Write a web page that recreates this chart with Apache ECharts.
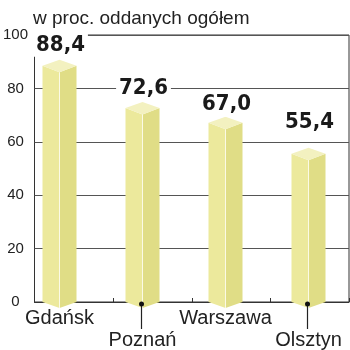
<!DOCTYPE html>
<html>
<head>
<meta charset="utf-8">
<script src="https://cdn.jsdelivr.net/npm/echarts@6/dist/echarts.min.js"></script>
<style>
  html, body { margin: 0; padding: 0; background: #fff; }
  #main { width: 350px; height: 350px; }
</style>
</head>
<body>
<div id="main"></div>
<script>
// dane z wykresu
const cities = ['Gdańsk', 'Poznań', 'Warszawa', 'Olsztyn']
const shares = [88.4, 72.6, 67.0, 55.4]
const yTicks = [0, 20, 40, 60, 80, 100]

const title = 'w proc. oddanych ogółem'

// podpis nad słupkiem w Olsztynie wisi wyżej niż pozostałe
const labelLift = [21, 20, 18, 31]

const fmt = v => v.toFixed(1).replace('.', ',')

function renderBar(params, api) {
  const i = api.value(0)
  const [cx, ty] = api.coord([i, api.value(1)])
  const by = api.coord([i, 0])[1]
  const w = 17
  const children = [
    { type: 'polygon', shape: { points: [[cx - w, ty], [cx, ty + 6.5], [cx, by + 7], [cx - w, by + 1]] },
      style: { fill: '#ece99c' } },
    { type: 'polygon', shape: { points: [[cx, ty + 6.5], [cx + w, ty], [cx + w, by + 1], [cx, by + 7]] },
      style: { fill: '#e0dd86' } },
    { type: 'polygon', shape: { points: [[cx - w, ty], [cx, ty - 6], [cx + w, ty], [cx, ty + 6.5]] },
      style: { fill: '#f3f1c0' } },
    { type: 'line', shape: { x1: cx, y1: ty + 6.5, x2: cx, y2: by + 7 },
      style: { stroke: '#fbfae6', lineWidth: 1 } },
    { type: 'text', style: {
        text: fmt(api.value(1)), x: cx + 1, y: ty - labelLift[i],
        align: 'center', verticalAlign: 'middle',
        font: 'bold 22px "DejaVu Sans Condensed", "DejaVu Sans", sans-serif',
        fill: '#1a1a1a', backgroundColor: '#fff', padding: [1, 3]
      } }
  ]
  // co drugi podpis zjeżdża niżej, z kreską i kropką
  if (i % 2 === 1) {
    children.push(
      { type: 'line', shape: { x1: cx - 1, y1: by + 3, x2: cx - 1, y2: by + 28 },
        style: { stroke: '#222', lineWidth: 1.2 }, z2: 10 },
      { type: 'circle', shape: { cx: cx - 1, cy: by + 3, r: 2.5 }, style: { fill: '#111' }, z2: 11 }
    )
  }
  return { type: 'group', children }
}

const option = {
  animation: false,
  title: {
    text: title,
    left: 33,
    top: 9,
    padding: 0,
    textStyle: { fontFamily: 'Liberation Sans', fontSize: 19, fontWeight: 'normal', color: '#222' }
  },
  grid: [
    { left: 33, right: 1, top: 35, bottom: 48, show: true, borderColor: '#333', borderWidth: 1 },
    { left: 18, right: 0, top: 35, bottom: 48 }
  ],
  xAxis: [
    {
      gridIndex: 0,
      type: 'category',
      data: cities,
      boundaryGap: true,
      axisLine: { lineStyle: { color: '#333' } },
      axisTick: { show: true, inside: true, length: 4, lineStyle: { color: '#333' } },
      axisLabel: { show: false }
    },
    {
      gridIndex: 1,
      type: 'category',
      data: cities,
      axisLine: { show: false },
      axisTick: { show: false },
      axisLabel: {
        interval: 0,
        margin: 7,
        formatter: (v, i) => (i % 2 ? '{low|' + v + '}' : '{high|' + v + '}'),
        rich: {
          high: { fontFamily: 'Liberation Sans', fontSize: 20, color: '#222', lineHeight: 20 },
          low: { fontFamily: 'Liberation Sans', fontSize: 20, color: '#222', lineHeight: 20, padding: [44, 0, 0, 0] }
        }
      }
    }
  ],
  yAxis: [
    {
      gridIndex: 0,
      type: 'value',
      min: yTicks[0],
      max: yTicks[yTicks.length - 1],
      interval: yTicks[1] - yTicks[0],
      axisLine: { show: false },
      axisTick: { show: false },
      axisLabel: { margin: 19, align: 'center', fontFamily: 'Liberation Sans', fontSize: 15, color: '#222' },
      splitLine: { lineStyle: { color: '#555', width: 1 } }
    },
    {
      gridIndex: 1,
      type: 'value',
      min: yTicks[0],
      max: yTicks[yTicks.length - 1],
      show: false
    }
  ],
  series: [
    {
      type: 'custom',
      xAxisIndex: 1,
      yAxisIndex: 1,
      clip: false,
      renderItem: renderBar,
      encode: { x: 0, y: 1 },
      data: cities.map((c, i) => [i, shares[i]])
    }
  ]
}

echarts.init(document.getElementById('main')).setOption(option)
</script>
</body>
</html>
